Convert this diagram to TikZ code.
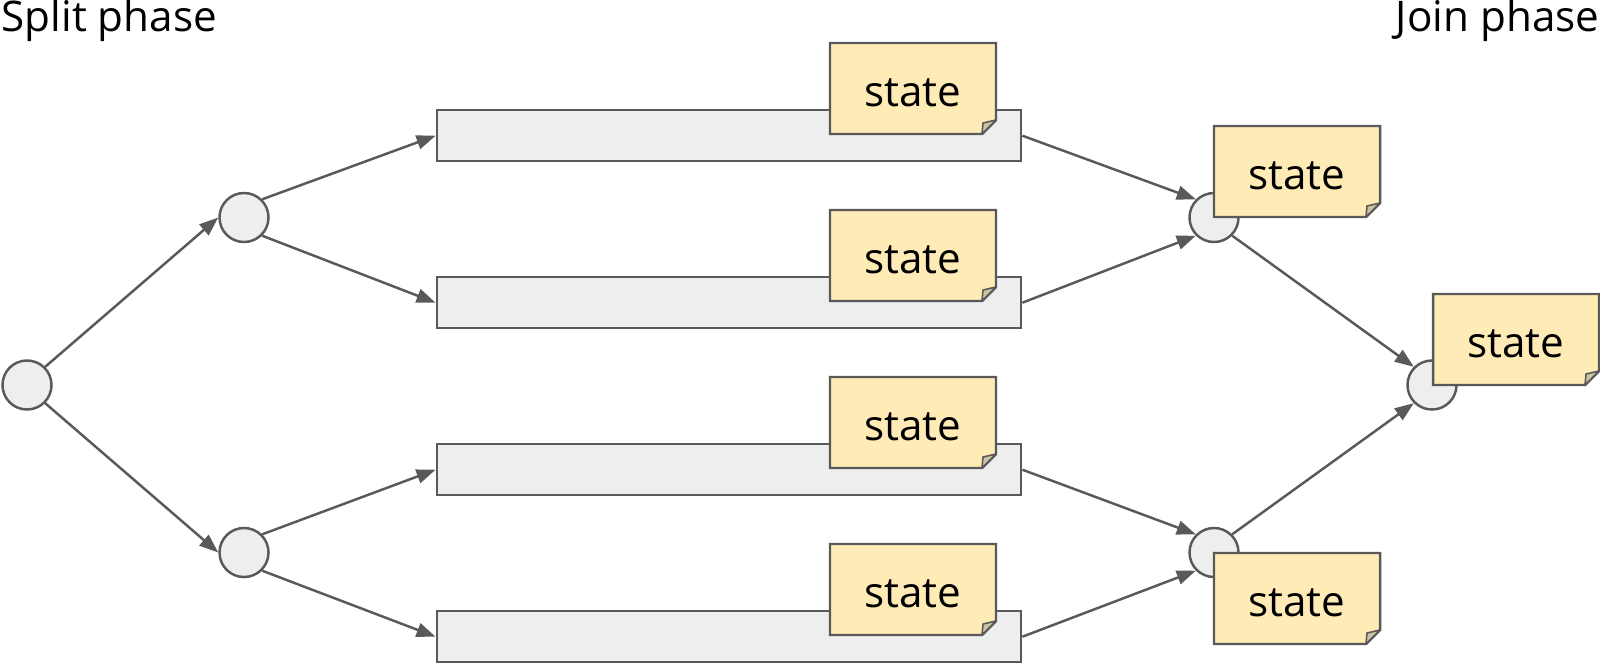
\documentclass[tikz,border=0pt]{standalone}
\usepackage{fontspec}
\setmainfont{Open Sans}
\usetikzlibrary{arrows.meta}
\definecolor{edgec}{HTML}{595959}
\definecolor{greyf}{HTML}{EEEEEE}
\definecolor{notef}{HTML}{FFEBB6}
\definecolor{foldf}{HTML}{CCC6A0}
\newcommand\statenote[3]{%
  \filldraw[notebody] (#2,#3) -- (#2+166,#3) -- (#2+166,#3+77) -- (#2+152,#3+91) -- (#2,#3+91) -- cycle;
  \filldraw[notefold] (#2+152,#3+91) -- (#2+166,#3+77) -- (#2+153,#3+80) -- cycle;
  \node[statelabel] (#1) at (#2+83,#3+63) {state};
}
\begin{document}
\begin{tikzpicture}[x=0.01cm,y=-0.01cm,
  roundnode/.style={circle,draw=edgec,fill=greyf,line width=0.7pt,minimum size=0.49cm,inner sep=0pt},
  barnode/.style={rectangle,draw=edgec,fill=greyf,line width=0.7pt,minimum width=5.84cm,minimum height=0.51cm,inner sep=0pt},
  link/.style={draw=edgec,line width=0.7pt,-{Triangle[length=0.19cm,width=0.14cm]}},
  notebody/.style={fill=notef,draw=edgec,line width=0.7pt,line join=miter},
  notefold/.style={fill=foldf,draw=edgec,line width=0.45pt,line join=round},
  statelabel/.style={anchor=base,inner sep=0pt,font=\fontsize{12pt}{14pt}\selectfont},
  title/.style={inner sep=0pt,font=\fontsize{12pt}{14pt}\selectfont}]
\useasboundingbox (0,0) rectangle (1600,666);

\node[title,anchor=base west] (split) at (1,31) {Split phase};
\node[title,anchor=base east] (join) at (1600,31) {Join phase};

\node[barnode] (bar1) at (729,135.7) {};
\node[barnode] (bar2) at (729,302.7) {};
\node[barnode] (bar3) at (729,469.7) {};
\node[barnode] (bar4) at (729,636.7) {};

\node[roundnode] (A) at (27,385) {};
\node[roundnode] (B1) at (244,217.5) {};
\node[roundnode] (B2) at (244,552.5) {};
\node[roundnode] (C1) at (1214,217.5) {};
\node[roundnode] (C2) at (1214,552.5) {};
\node[roundnode] (D) at (1432,385) {};

\draw[link] (A.45) -- (B1.west);
\draw[link] (A.-45) -- (B2.west);
\draw[link] (B1.45) -- (bar1.west);
\draw[link] (B1.-45) -- (bar2.west);
\draw[link] (B2.45) -- (bar3.west);
\draw[link] (B2.-45) -- (bar4.west);
\draw[link] (bar1.east) -- (C1.135);
\draw[link] (bar2.east) -- (C1.-135);
\draw[link] (bar3.east) -- (C2.135);
\draw[link] (bar4.east) -- (C2.-135);
\draw[link] (C1.-45) -- (D.135);
\draw[link] (C2.45) -- (D.-135);

\statenote{n1}{830}{43}
\statenote{n2}{830}{210}
\statenote{n3}{830}{377}
\statenote{n4}{830}{544}
\statenote{m1}{1214}{126}
\statenote{m2}{1214}{553}
\statenote{m3}{1433}{294}
\end{tikzpicture}
\end{document}
